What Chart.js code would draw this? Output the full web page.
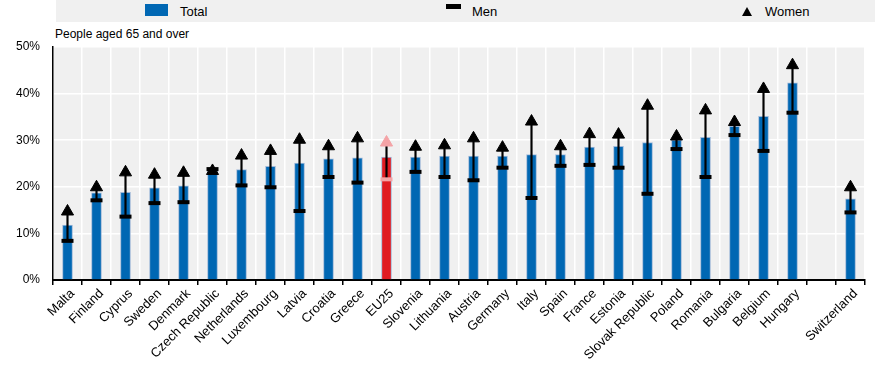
<!DOCTYPE html>
<html>
<head>
<meta charset="utf-8">
<script src="https://cdn.jsdelivr.net/npm/chart.js@4"></script>
<style>
body{margin:0;background:#fff;font-family:"Liberation Sans",Arial,sans-serif;}
#wrap{position:relative;width:875px;height:366px;}
#chart{position:absolute;left:0;top:0;}
.band{position:absolute;left:56px;top:0;width:819px;height:22px;background:#f0f0f0;}
.lg{position:absolute;font-size:13px;line-height:16px;color:#000;top:4px;}
.sub{position:absolute;left:55px;top:27px;font-size:12px;line-height:14px;color:#000;}
</style>
</head>
<body>
<div id="wrap">
<div class="band"></div>
<div style="position:absolute;left:145px;top:4px;width:23px;height:12px;background:#0067b3"></div>
<div class="lg" style="left:180px">Total</div>
<div style="position:absolute;left:446px;top:4px;width:15px;height:5px;background:#000"></div>
<div class="lg" style="left:472px">Men</div>
<div style="position:absolute;left:742px;top:7px;width:0;height:0;border-left:5.5px solid transparent;border-right:5.5px solid transparent;border-bottom:9px solid #000"></div>
<div class="lg" style="left:765px">Women</div>
<div class="sub">People aged 65 and over</div>
<canvas id="chart" width="875" height="366"></canvas>
</div>
<script>
let countries = ['Malta','Finland','Cyprus','Sweden','Denmark','Czech Republic','Netherlands','Luxembourg','Latvia','Croatia','Greece','EU25','Slovenia','Lithuania','Austria','Germany','Italy','Spain','France','Estonia','Slovak Republic','Poland','Romania','Bulgaria','Belgium','Hungary','','Switzerland'];

let total = [11.8,18.7,18.8,19.8,20.2,23.3,23.7,24.4,25.1,26.0,26.2,26.4,26.4,26.6,26.6,26.6,26.9,26.9,28.5,28.7,29.5,30.0,30.6,33.0,35.1,42.3,null,17.4];
let men = [8.4,17.1,13.6,16.5,16.7,23.8,20.3,19.9,14.8,22.1,20.9,21.6,23.2,22.1,21.4,24.1,17.6,24.5,24.7,24.1,18.5,28.1,22.1,31.1,27.7,35.9,null,14.5];
let women = [14.7,19.9,23.1,22.6,23.0,23.4,26.7,27.7,30.1,28.7,30.4,29.5,28.6,28.9,30.4,28.4,34.0,28.7,31.3,31.2,37.4,30.8,36.4,33.9,41.0,46.1,null,19.9];

let yTicks = [0,10,20,30,40,50];

/* EU25 drawn in red, its markers in pink */
let barColors = countries.map(c => c == 'EU25' ? '#e01b22' : '#0067b3');
let markColors = countries.map(c => c == 'EU25' ? '#f4a3a6' : '#000000');

let ranges = men.map((m, i) => m == null ? null : [m, women[i]]);

/* grey plot background */
const plotBg = {
  id:'plotBg',
  beforeDraw(chart){
    let a = chart.chartArea;
    let ctx = chart.ctx;
    ctx.save();
    ctx.fillStyle = '#f0f0f0';
    ctx.fillRect(a.left, a.top, a.right - a.left, a.bottom - a.top);
    ctx.restore();
  }
};

new Chart(document.getElementById('chart'), {
  type:'bar',
  data:{
    labels:countries,
    datasets:[
      {
        label:'Women',
        type:'line',
        data:women,
        showLine:false,
        pointStyle:'triangle',
        pointRadius:7,
        pointBackgroundColor:markColors,
        pointBorderColor:markColors,
        pointBorderWidth:1,
        order:0
      },
      {
        label:'Men',
        type:'line',
        data:men,
        showLine:false,
        pointStyle:'line',
        pointRadius:6,
        pointBorderColor:markColors,
        pointBorderWidth:4,
        order:1
      },
      {
        label:'range',
        data:ranges,
        backgroundColor:'#000',
        barThickness:1.5,
        grouped:false,
        order:2
      },
      {
        label:'Total',
        data:total,
        backgroundColor:barColors,
        borderColor:'#9fb8d8',
        borderWidth:{left:1,right:1,top:1,bottom:0},
        barThickness:10,
        grouped:false,
        order:3
      }
    ]
  },
  options:{
    responsive:false,
    animation:false,
    layout:{padding:{top:47,left:0,right:0,bottom:0}},
    plugins:{
      legend:{display:false},
      tooltip:{enabled:false}
    },
    scales:{
      x:{
        offset:true,
        afterFit: s => { s.height = 86; },
        grid:{color:'#ffffff',lineWidth:1.5,offset:true,tickColor:'#000',tickLength:5},
        border:{color:'#000',width:2},
        ticks:{
          autoSkip:false,
          minRotation:45,
          maxRotation:45,
          padding:1,
          labelOffset:5,
          color:'#000',
          font:{family:'Liberation Sans, Arial',size:13}
        }
      },
      y:{
        min:0,
        max:50,
        afterFit: s => { s.width = 53; },
        afterBuildTicks: s => { s.ticks = yTicks.map(v => ({value:v})); },
        grid:{color:'#ffffff',lineWidth:1.5,drawTicks:false},
        border:{color:'#000',width:1.5},
        ticks:{
          padding:13,
          color:'#000',
          font:{family:'Liberation Sans, Arial',size:12},
          callback: v => v + '%'
        }
      }
    }
  },
  plugins:[plotBg]
});
</script>
</body>
</html>
